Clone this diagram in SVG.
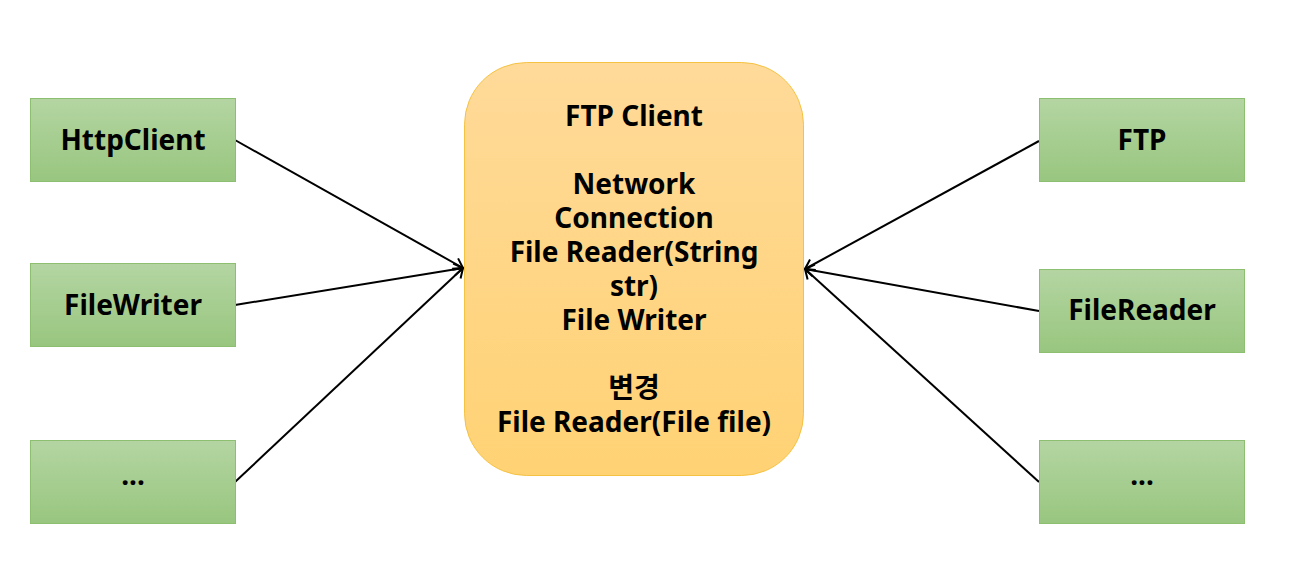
<svg xmlns="http://www.w3.org/2000/svg" width="1295" height="568" viewBox="0 0 1295 568">
<defs>
<linearGradient id="gGreen" x1="0" y1="0" x2="0" y2="1">
<stop offset="0" stop-color="#b4d5a2"/>
<stop offset="1" stop-color="#98c67f"/>
</linearGradient>
<linearGradient id="gOrange" x1="0" y1="0" x2="0" y2="1">
<stop offset="0" stop-color="#ffda99"/>
<stop offset="1" stop-color="#ffd274"/>
</linearGradient>
<marker id="arr" markerWidth="14" markerHeight="14" refX="11" refY="7" orient="auto" markerUnits="userSpaceOnUse">
<path d="M2,1 L11,7 L2,13" fill="none" stroke="#000" stroke-width="2"/>
</marker>
<style>
.box{fill:url(#gGreen);stroke:#8cc070;stroke-width:1}
.center{fill:url(#gOrange);stroke:#f5c242;stroke-width:1}
.t{font-family:"Noto Sans","Noto Sans CJK KR",sans-serif;font-weight:bold;font-size:28px;fill:#000;text-anchor:middle}
.edge{stroke:#000;stroke-width:2;fill:none;marker-end:url(#arr)}
</style>
</defs>
<rect width="1295" height="568" fill="#fff"/>
<g id="connectors">
<line class="edge" x1="235" y1="140" x2="463" y2="268"/>
<line class="edge" x1="235" y1="305" x2="463" y2="268"/>
<line class="edge" x1="235" y1="482" x2="463" y2="268"/>
<line class="edge" x1="1039" y1="141" x2="805" y2="269"/>
<line class="edge" x1="1039" y1="311" x2="805" y2="269"/>
<line class="edge" x1="1039" y1="482" x2="805" y2="269"/>
</g>
<g id="ftpclient">
<rect class="center" x="464.5" y="62.5" width="339" height="413" rx="62" ry="62"/>
<text class="t" x="634" y="126">FTP Client</text>
<text class="t" x="634" y="194">Network</text>
<text class="t" x="634" y="228">Connection</text>
<text class="t" x="634" y="262">File Reader(String</text>
<text class="t" x="634" y="296">str)</text>
<text class="t" x="634" y="330">File Writer</text>
<text class="t" x="634" y="398">변경</text>
<text class="t" x="634" y="432">File Reader(File file)</text>
</g>
<g id="httpclient">
<rect class="box" x="30.5" y="98.5" width="205" height="83"/>
<text class="t" x="133" y="150">HttpClient</text>
</g>
<g id="filewriter">
<rect class="box" x="30.5" y="263.5" width="205" height="83"/>
<text class="t" x="133" y="315">FileWriter</text>
</g>
<g id="left-more">
<rect class="box" x="30.5" y="440.5" width="205" height="83"/>
<text class="t" x="133" y="485">...</text>
</g>
<g id="ftp">
<rect class="box" x="1039.5" y="98.5" width="205" height="83"/>
<text class="t" x="1142" y="150">FTP</text>
</g>
<g id="filereader">
<rect class="box" x="1039.5" y="269.5" width="205" height="83"/>
<text class="t" x="1142" y="320">FileReader</text>
</g>
<g id="right-more">
<rect class="box" x="1039.5" y="440.5" width="205" height="83"/>
<text class="t" x="1142" y="485">...</text>
</g>
</svg>
